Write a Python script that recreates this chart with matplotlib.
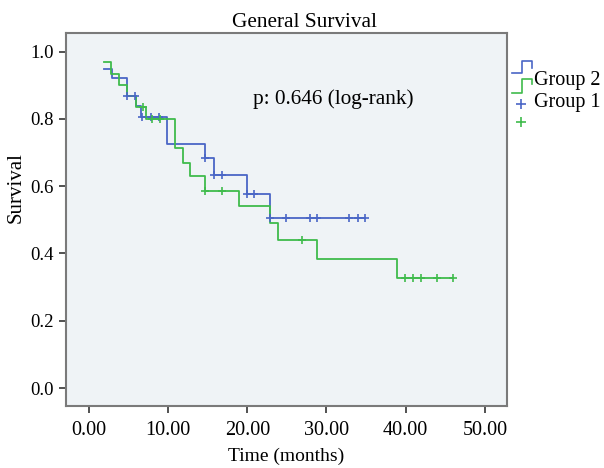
import numpy as np
import matplotlib
matplotlib.use("Agg")
import matplotlib.pyplot as plt
from matplotlib.lines import Line2D

plt.rcParams["font.family"] = ["Liberation Serif", "DejaVu Serif"]

# Kaplan-Meier steps
g1_times = [1.9, 2.9, 4.8, 5.9, 6.6, 9.8, 14.7, 15.8, 19.9, 22.85, 34.9]
g1_surv = [0.948, 0.922, 0.869, 0.839, 0.806, 0.725, 0.683, 0.634, 0.578, 0.505, 0.505]
g1_cens = [4.8, 5.8, 6.7, 7.8, 8.8, 14.7, 15.8, 16.8, 19.9, 20.8,
           22.85, 24.9, 27.9, 28.8, 32.9, 34.0, 34.9]

g2_times = [1.9, 2.8, 3.8, 4.8, 5.9, 7.2, 10.85, 11.9, 12.8, 14.7,
            18.9, 22.85, 23.9, 28.8, 38.9, 46.0]
g2_surv = [0.968, 0.934, 0.90, 0.868, 0.837, 0.80, 0.715, 0.67, 0.631, 0.587,
           0.542, 0.49, 0.44, 0.385, 0.328, 0.328]
g2_cens = [6.8, 7.9, 9.0, 14.7, 16.8, 26.9, 39.9, 40.9, 41.9, 43.9, 46.0]

x_ticks = [0, 10, 20, 30, 40, 50]
y_ticks = [0.0, 0.2, 0.4, 0.6, 0.8, 1.0]

blue = "#4a66c6"
green = "#3fbb4c"


def surv_at(times, surv, t):
    idx = np.searchsorted(times, np.array(t) + 1e-9, side="right") - 1
    return np.array(surv)[idx]


fig = plt.figure(figsize=(6.04, 4.68), dpi=100)
ax = fig.add_axes([66 / 604, 1 - 406 / 468, 441 / 604, 373 / 468])
ax.set_facecolor("#eff3f6")

ax.step(g1_times, g1_surv, where="post", color=blue, lw=1.3)
ax.step(g2_times, g2_surv, where="post", color=green, lw=1.3)
ax.plot(g1_cens, surv_at(g1_times, g1_surv, g1_cens), "+", color=blue, ms=6, mew=1.2)
ax.plot(g2_cens, surv_at(g2_times, g2_surv, g2_cens), "+", color=green, ms=6, mew=1.2)

ax.set_xlim(-2.9, 52.8)
ax.set_ylim(-0.0535, 1.0556)
ax.set_xticks(x_ticks)
ax.set_xticklabels([f"{v:.2f}" for v in x_ticks])
ax.set_yticks(y_ticks)
ax.set_yticklabels([f"{v:.1f}" for v in y_ticks])
ax.tick_params(length=5, width=1.2, color="#333333", pad=4)
ax.tick_params(axis="y", labelsize=13.5)
ax.tick_params(axis="x", labelsize=14.5, pad=6)
for s in ax.spines.values():
    s.set_color("#7a7a7a")
    s.set_linewidth(1.5)

ax.set_xlabel("Time (months)", fontsize=14, labelpad=5)
ax.set_ylabel("Survival", fontsize=15)
ax.yaxis.set_label_coords(-0.092, 0.585)
ax.set_title("General Survival", fontsize=15.3, pad=4, x=0.54)
ax.text(0.605, 0.823, "p: 0.646 (log-rank)", transform=ax.transAxes,
        ha="center", va="center", fontsize=15.3)


# legend, SPSS style, drawn beside the axes
def px(x, y):
    return x / 604, 1 - y / 468


def step_icon(y_low, y_high, y_end, color):
    xs = [511.7, 521.7, 521.7, 531.7, 531.7]
    ys = [y_low, y_low, y_high, y_high, y_end]
    pts = [px(a, b) for a, b in zip(xs, ys)]
    fig.add_artist(Line2D([p[0] for p in pts], [p[1] for p in pts],
                          color=color, lw=1.2, transform=fig.transFigure))


step_icon(73.3, 61, 68.3, blue)
step_icon(92.7, 79.3, 84, green)
for (x, y), c in [((520.7, 104), blue), ((520.7, 122), green)]:
    fx, fy = px(x, y)
    fig.add_artist(Line2D([fx], [fy], marker="+", ms=7, mew=1.2, color=c,
                          transform=fig.transFigure))
fig.text(*px(534, 81), "Group 2", fontsize=14.5, va="center")
fig.text(*px(534, 103), "Group 1", fontsize=14.5, va="center")

fig.savefig("out.png", dpi=100)
